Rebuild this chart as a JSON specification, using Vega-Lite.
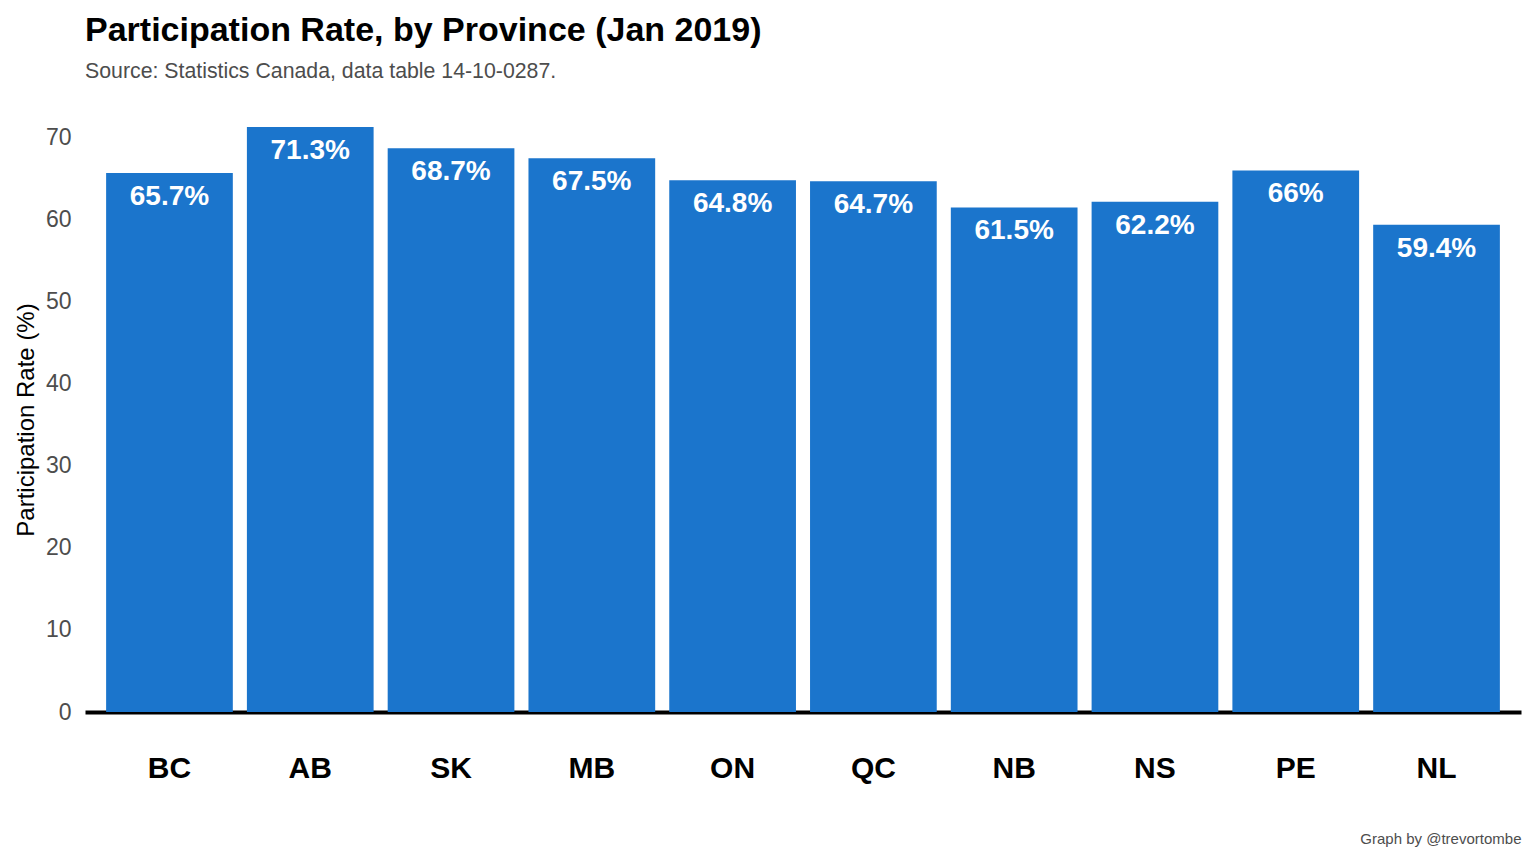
{
  "$schema": "https://vega.github.io/schema/vega-lite/v6.json",
  "width": 1436,
  "height": 585,
  "autosize": {"type": "none"},
  "padding": {"left": 85, "top": 127, "right": 15, "bottom": 152},
  "background": "white",
  "title": {
    "text": "Participation Rate, by Province (Jan 2019)",
    "subtitle": "Source: Statistics Canada, data table 14-10-0287.",
    "anchor": "start",
    "frame": "group",
    "fontSize": 34,
    "fontWeight": "bold",
    "color": "black",
    "subtitleFontSize": 21.3,
    "subtitleColor": "#4D4D4D",
    "subtitlePadding": 13,
    "offset": 44
  },
  "data": {
    "values": [
      {"prov": "BC", "rate": 65.7, "label": "65.7%"},
      {"prov": "AB", "rate": 71.3, "label": "71.3%"},
      {"prov": "SK", "rate": 68.7, "label": "68.7%"},
      {"prov": "MB", "rate": 67.5, "label": "67.5%"},
      {"prov": "ON", "rate": 64.8, "label": "64.8%"},
      {"prov": "QC", "rate": 64.7, "label": "64.7%"},
      {"prov": "NB", "rate": 61.5, "label": "61.5%"},
      {"prov": "NS", "rate": 62.2, "label": "62.2%"},
      {"prov": "PE", "rate": 66.0, "label": "66%"},
      {"prov": "NL", "rate": 59.4, "label": "59.4%"}
    ]
  },
  "encoding": {
    "x": {
      "field": "prov",
      "type": "nominal",
      "sort": null,
      "scale": {"paddingInner": 0.1, "paddingOuter": 0.15},
      "axis": {
        "title": "Graph by @trevortombe",
        "titleAnchor": "end",
        "titleFontSize": 15,
        "titleFontWeight": "normal",
        "titleColor": "#4D4D4D",
        "titlePadding": 48,
        "labelAngle": 0,
        "labelFontSize": 30,
        "labelFontWeight": "bold",
        "labelColor": "black",
        "labelPadding": 41,
        "ticks": false,
        "tickSize": 0,
        "domain": true,
        "domainColor": "black",
        "domainWidth": 4,
        "grid": false
      }
    },
    "y": {
      "field": "rate",
      "type": "quantitative",
      "scale": {"domain": [0, 71.3], "nice": false, "zero": true},
      "axis": {
        "title": "Participation Rate (%)",
        "titleFontSize": 24,
        "titleFontWeight": "normal",
        "titleColor": "black",
        "titlePadding": 7,
        "values": [0, 10, 20, 30, 40, 50, 60, 70],
        "labelFontSize": 23,
        "labelColor": "#4D4D4D",
        "labelPadding": 14,
        "ticks": false,
        "tickSize": 0,
        "domain": false,
        "grid": false
      }
    }
  },
  "layer": [
    {"mark": {"type": "bar", "color": "#1B75CC"}},
    {
      "mark": {
        "type": "text",
        "color": "white",
        "fontSize": 28,
        "fontWeight": "bold",
        "baseline": "top",
        "dy": 10
      },
      "encoding": {"text": {"field": "label", "type": "nominal"}}
    }
  ],
  "config": {
    "font": "Liberation Sans",
    "view": {"stroke": null}
  }
}
